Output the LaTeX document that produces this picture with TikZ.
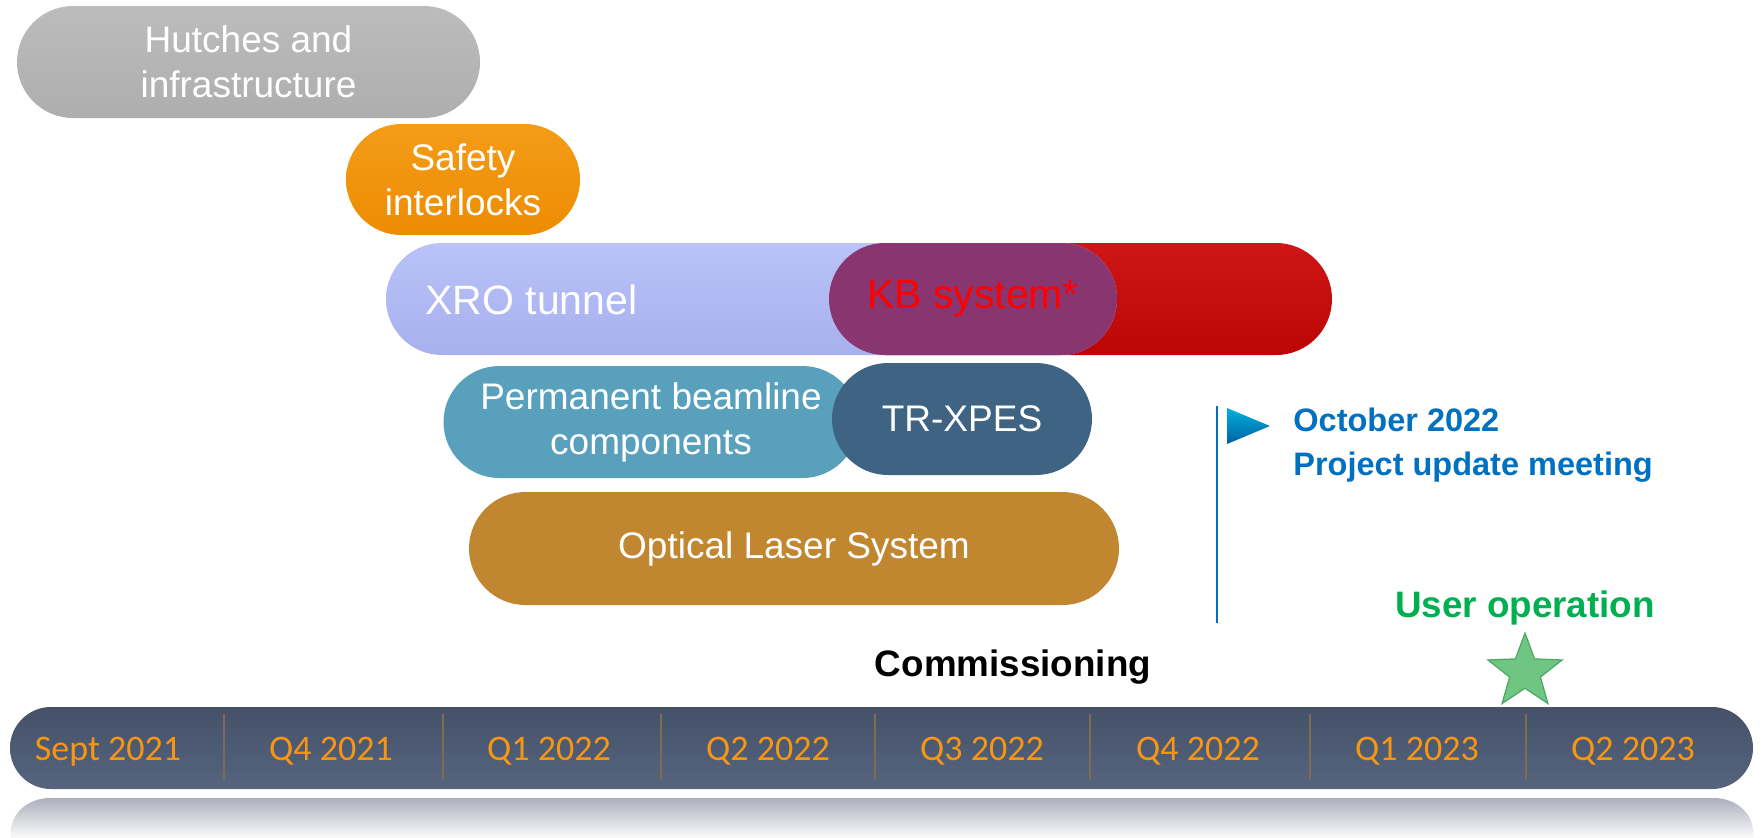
\documentclass[tikz,border=0pt]{standalone}
\usepackage{fontspec}
\setmainfont{Liberation Sans}
\newfontfamily\calfont{Carlito}
\usetikzlibrary{shapes.misc,shapes.geometric,positioning}

\definecolor{hutgrey}{RGB}{174,174,174}
\definecolor{hutgreyT}{RGB}{188,188,188}
\definecolor{safeorange}{RGB}{237,140,2}
\definecolor{safeorangeT}{RGB}{244,156,24}
\definecolor{xrolav}{RGB}{168,176,237}
\definecolor{xrolavT}{RGB}{186,194,250}
\definecolor{kbred}{RGB}{188,6,6}
\definecolor{kbredT}{RGB}{206,22,22}
\definecolor{kbplum}{RGB}{137,53,112}
\definecolor{permteal}{RGB}{89,160,189}
\definecolor{trxblue}{RGB}{62,99,131}
\definecolor{optgold}{RGB}{193,134,48}
\definecolor{barslate}{RGB}{76,90,114}
\definecolor{barslateT}{RGB}{68,81,104}
\definecolor{barslateB}{RGB}{86,100,126}
\definecolor{divline}{RGB}{125,108,82}
\definecolor{qorange}{RGB}{246,150,18}
\definecolor{meetblue}{RGB}{0,112,192}
\definecolor{usergreen}{RGB}{0,176,80}
\definecolor{stargreen}{RGB}{110,198,130}
\definecolor{stargreenD}{RGB}{78,166,100}
\definecolor{reflgrey}{RGB}{172,176,188}

\begin{document}
\begin{tikzpicture}[x=0.5pt,y=-0.5pt,
  pill/.style={rounded rectangle, inner sep=0pt, text=white, align=center,
    font=\fontsize{18.5}{22.5}\selectfont},
  bigpill/.style={pill, minimum height=56pt, font=\fontsize{20.5}{24}\selectfont},
  quarter/.style={anchor=base, text=qorange, font=\calfont\fontsize{18}{20}\selectfont},
  divider/.style={draw=divline, line width=0.6pt},
  milestone/.style={anchor=base, font=\bfseries\fontsize{18.4}{22}\selectfont}]
\useasboundingbox (0,0) rectangle (1763,837);

% work packages
\node[pill, top color=hutgreyT, bottom color=hutgrey, minimum width=231.5pt, minimum height=56pt]
  (hutch) at (248.5,62) {Hutches and\\infrastructure};
\node[pill, top color=safeorangeT, bottom color=safeorange, minimum width=117pt, minimum height=55.5pt]
  (safety) at (463,179.5) {Safety\\interlocks};
\node[bigpill, top color=kbredT, bottom color=kbred, minimum width=251.5pt] (kbback) at (1080.5,299) {};
\node[bigpill, top color=xrolavT, bottom color=xrolav, minimum width=365.5pt] (xro) at (751.5,299) {};
\node[bigpill, fill=kbplum, text=red, minimum width=144pt] (kb) at (973,299) {KB system*};
\node[anchor=west, text=white, font=\fontsize{20.5}{24}\selectfont, inner sep=0pt] (xrolbl) at (425,300) {XRO tunnel};
\node[pill, fill=permteal, minimum width=207.5pt, minimum height=56pt]
  (perm) at (651,422) {Permanent beamline\\components};
\node[pill, fill=trxblue, minimum width=130pt, minimum height=56pt] (trx) at (962,419) {TR-XPES};
\node[pill, fill=optgold, minimum width=325pt, minimum height=56.5pt] (laser) at (794,548.5) {Optical Laser System};

% project update flag
\coordinate (poletop) at (1217,406);
\coordinate (polebot) at (1217,623);
\draw[meetblue, line width=1pt] (poletop) -- (polebot);
\shade[top color=meetblue!55!cyan, bottom color=meetblue!85!black] (1227,408) -- (1270,426) -- (1227,444) -- cycle;
\node[anchor=base west, text=meetblue, font=\bfseries\fontsize{16.25}{20}\selectfont, inner sep=0pt]
  (oct) at (1293,431) {October 2022};
\node[anchor=base west, text=meetblue, font=\bfseries\fontsize{16.25}{20}\selectfont, inner sep=0pt]
  (meet) at (1293,475) {Project update meeting};

% milestones
\node[milestone, inner sep=0pt] (comm) at (1013,676) {Commissioning};
\node[milestone, text=usergreen, inner sep=0pt] (user) at (1525,617) {User operation};
\node[star, star points=5, star point ratio=2.4, minimum size=39pt, inner sep=0pt,
  fill=stargreen, draw=stargreenD, line width=0.6pt] (ustar) at (1525,672) {};

% reflection of the time bar
\shade[top color=reflgrey, bottom color=white] (11,840) -- (11,832) to[out=90,in=180] (50,798)
  -- (1714,798) to[out=0,in=90] (1753,832) -- (1753,840) -- cycle;

% time bar
\node[rounded rectangle, inner sep=0pt, top color=barslateT, bottom color=barslateB,
  minimum width=871.5pt, minimum height=41pt] (bar) at (881.5,748) {};
\foreach \d in {224,443,661,875,1090,1310,1526}
  \draw[divider] (\d,714) -- (\d,779);
\foreach \cx/\lbl [count=\i] in {108/Sept 2021,331/Q4 2021,549/Q1 2022,768/Q2 2022,
    982/Q3 2022,1198/Q4 2022,1417/Q1 2023,1633/Q2 2023}
  \node[quarter] (q\i) at (\cx,760) {\lbl};
\end{tikzpicture}
\end{document}
